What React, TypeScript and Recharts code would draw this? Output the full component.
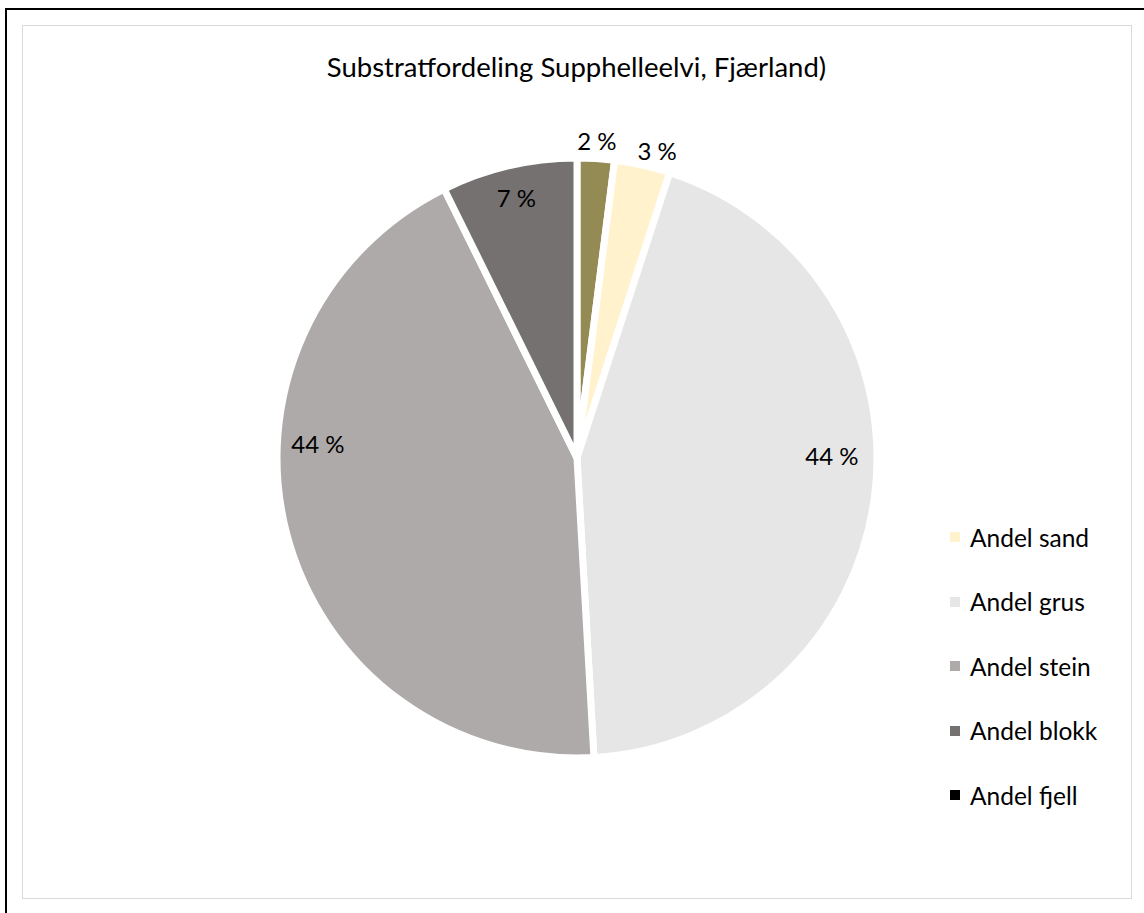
import React from 'react';
import { PieChart, Pie, Cell, Legend } from 'recharts';

// substrate shares (percent)
const categories = ['Andel finstoff', 'Andel sand', 'Andel grus', 'Andel stein', 'Andel blokk', 'Andel fjell'];
const shares = [2.0, 3.0, 44.1, 43.6, 7.3, 0];
const colors = ['#948A54', '#FFF2CC', '#E7E6E6', '#AEAAAA', '#767171', '#000000'];
// the original legend only lists these
const legendNames = ['Andel sand', 'Andel grus', 'Andel stein', 'Andel blokk', 'Andel fjell'];

const data = categories.map((name, i) => ({ name, value: shares[i] }));

const FONT = 'Lato, "Open Sans", sans-serif';
const RAD = Math.PI / 180;
// Excel's best-fit placement: radius factor and angle shift per label
const labelRadius = [1.06, 1.06, 0.85, 0.865, 0.89, 0];
const labelNudge = [0, -2, 8, -18, 0, 0];

function renderLabel(props: any) {
  const { cx, cy, midAngle, outerRadius, value, index } = props;
  if (!value) return null;
  const r = outerRadius * labelRadius[index];
  const a = (midAngle + labelNudge[index]) * RAD;
  const x = cx + r * Math.cos(-a);
  const y = cy + r * Math.sin(-a);
  return (
    <text
      x={x}
      y={y}
      textAnchor="middle"
      dominantBaseline="central"
      fill="#000"
      fontFamily={FONT}
      fontSize={24}
      style={{ fontFamily: FONT, fontSize: 24 }}
    >
      {`${Math.round(value)} %`}
    </text>
  );
}

function renderLegend() {
  return (
    <div style={{ fontFamily: FONT, fontSize: 24.5, color: '#000' }}>
      {legendNames.map((name) => {
        const idx = categories.indexOf(name);
        return (
          <div key={name} style={{ display: 'flex', alignItems: 'center', height: 64.5 }}>
            <span style={{ width: 10, height: 10, background: colors[idx], marginRight: 10, display: 'inline-block' }} />
            <span>{name}</span>
          </div>
        );
      })}
    </div>
  );
}

export default function App() {
  return (
    <div style={{ position: 'absolute', left: 0, top: 0, width: 1144, height: 913, background: '#fff', overflow: 'hidden' }}>
      <div style={{ position: 'absolute', left: 5, top: 8, right: -10, bottom: -10, borderLeft: '2px solid #000', borderTop: '2px solid #000' }} />
      <div style={{ position: 'absolute', left: 22, top: 25, width: 1108, height: 872, border: '1px solid #d9d9d9' }} />
      <div style={{ position: 'absolute', left: 0, top: 50, width: 1153, textAlign: 'center', fontFamily: FONT, fontSize: 27.5, color: '#000' }}>
        Substratfordeling Supphelleelvi, Fjærland)
      </div>
      <div style={{ position: 'absolute', left: 0, top: 0 }}>
        <PieChart width={1144} height={913} margin={{ top: 0, right: 0, bottom: 0, left: 0 }}>
          <Pie
            data={data}
            dataKey="value"
            nameKey="name"
            cx={577}
            cy={458}
            outerRadius={300}
            startAngle={90}
            endAngle={-270}
            stroke="#fff"
            strokeWidth={7}
            labelLine={false}
            label={renderLabel}
            isAnimationActive={false}
          >
            {data.map((entry, i) => (
              <Cell key={`cell-${i}`} fill={colors[i]} />
            ))}
          </Pie>
          <Legend
            content={renderLegend}
            layout="vertical"
            wrapperStyle={{ position: 'absolute', left: 950, top: 505, width: 190 }}
          />
        </PieChart>
      </div>
    </div>
  );
}
